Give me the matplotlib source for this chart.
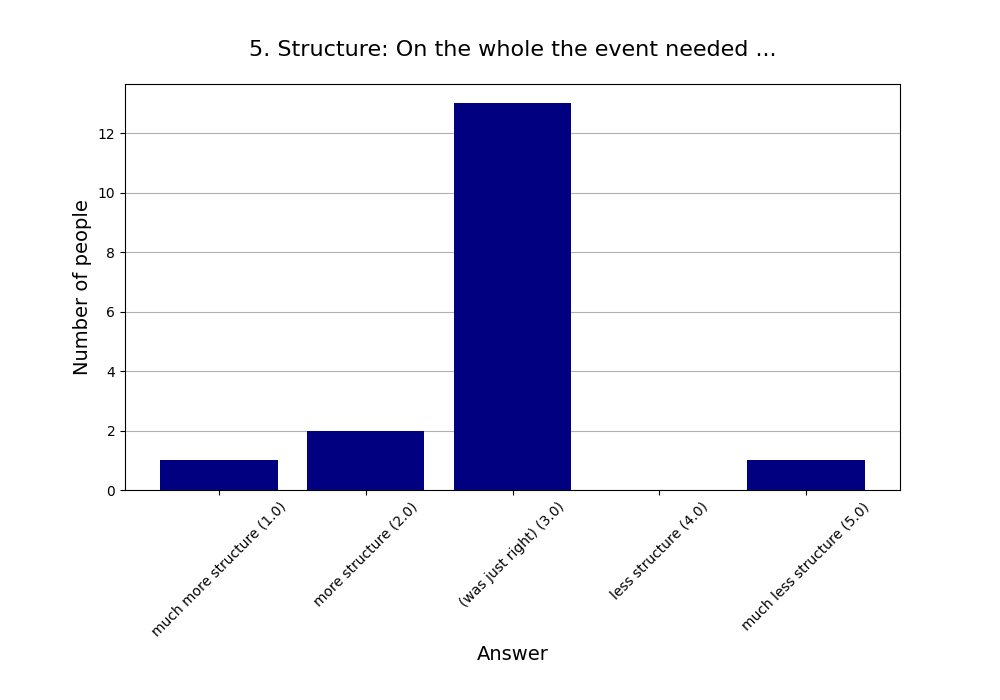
import matplotlib
matplotlib.use('Agg')
import matplotlib.pyplot as plt

# answers and counts
answers = ['much more structure (1.0)', 'more structure (2.0)', '(was just right) (3.0)',
           'less structure (4.0)', 'much less structure (5.0)']
counts = [1, 2, 13, 0, 1]

fig, ax = plt.subplots(figsize=(10, 7), dpi=100)
fig.subplots_adjust(left=0.125, right=0.9, top=0.88, bottom=0.3)

ax.set_axisbelow(True)
ax.yaxis.grid(True, color='#b0b0b0')
ax.bar(range(len(answers)), counts, width=0.8, color='navy')

ax.set_xticks(range(len(answers)))
ax.set_xticklabels(answers, rotation=45)
ax.set_title('5. Structure: On the whole the event needed ...', fontsize=16, pad=20)
ax.set_xlabel('Answer', fontsize=14)
ax.set_ylabel('Number of people', fontsize=14)

fig.savefig('out.png')
